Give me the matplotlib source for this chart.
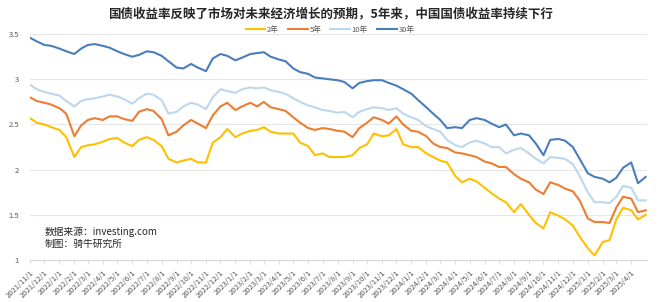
import matplotlib.pyplot as plt
import matplotlib.dates as mdates
import pandas as pd

plt.rcParams['font.family'] = ['Noto Sans CJK SC', 'DejaVu Sans']

# 半月采样的日期（2021/11/1 起）
dates = pd.date_range('2021-11-01', periods=85, freq='SMS')

# 各期限国债收益率(%)
y2 = [2.57, 2.52, 2.50, 2.47, 2.44, 2.36, 2.14, 2.25, 2.27, 2.28,
      2.31, 2.34, 2.35, 2.30, 2.26, 2.33, 2.36, 2.33, 2.26, 2.12,
      2.08, 2.10, 2.12, 2.08, 2.08, 2.30, 2.36, 2.45, 2.36, 2.40,
      2.43, 2.44, 2.47, 2.42, 2.40, 2.40, 2.40, 2.30, 2.26, 2.16,
      2.18, 2.14, 2.14, 2.14, 2.16, 2.24, 2.28, 2.40, 2.37, 2.38,
      2.45, 2.28, 2.25, 2.25, 2.18, 2.14, 2.10, 2.08, 1.93, 1.86,
      1.90, 1.87, 1.80, 1.74, 1.68, 1.64, 1.53, 1.62, 1.50, 1.41,
      1.35, 1.53, 1.49, 1.45, 1.38, 1.26, 1.13, 1.05, 1.20, 1.22,
      1.45, 1.58, 1.55, 1.45, 1.50]
y5 = [2.80, 2.76, 2.74, 2.72, 2.68, 2.62, 2.37, 2.49, 2.55, 2.57,
      2.55, 2.59, 2.59, 2.56, 2.54, 2.64, 2.67, 2.65, 2.56, 2.38,
      2.42, 2.49, 2.55, 2.51, 2.46, 2.60, 2.70, 2.74, 2.66, 2.70,
      2.74, 2.70, 2.75, 2.69, 2.67, 2.65, 2.58, 2.52, 2.46, 2.44,
      2.46, 2.45, 2.43, 2.42, 2.36, 2.46, 2.52, 2.58, 2.55, 2.51,
      2.59, 2.50, 2.43, 2.42, 2.37, 2.29, 2.25, 2.24, 2.19, 2.18,
      2.16, 2.14, 2.09, 2.07, 2.03, 2.03, 1.95, 1.90, 1.86, 1.78,
      1.73, 1.86, 1.83, 1.79, 1.76, 1.66, 1.46, 1.42, 1.42, 1.41,
      1.58, 1.70, 1.68, 1.53, 1.55]
y10 = [2.94, 2.89, 2.86, 2.84, 2.82, 2.76, 2.70, 2.76, 2.78, 2.79,
       2.81, 2.83, 2.81, 2.78, 2.73, 2.79, 2.84, 2.83, 2.77, 2.62,
       2.64, 2.70, 2.74, 2.72, 2.67, 2.80, 2.89, 2.87, 2.85, 2.89,
       2.91, 2.90, 2.91, 2.88, 2.86, 2.84, 2.79, 2.75, 2.71, 2.69,
       2.66, 2.65, 2.63, 2.64, 2.58, 2.64, 2.67, 2.69, 2.68, 2.66,
       2.68, 2.62, 2.58, 2.55, 2.48, 2.45, 2.42, 2.33, 2.27, 2.25,
       2.30, 2.32, 2.29, 2.25, 2.25, 2.18, 2.22, 2.24, 2.18, 2.12,
       2.07, 2.14, 2.13, 2.12, 2.06, 1.93, 1.75, 1.64, 1.64, 1.63,
       1.70, 1.82, 1.80, 1.66, 1.66]
y30 = [3.46, 3.42, 3.38, 3.37, 3.34, 3.31, 3.28, 3.34, 3.38, 3.39,
       3.37, 3.35, 3.31, 3.28, 3.25, 3.27, 3.31, 3.30, 3.26, 3.20,
       3.13, 3.12, 3.17, 3.13, 3.09, 3.23, 3.28, 3.26, 3.21, 3.24,
       3.28, 3.29, 3.30, 3.25, 3.22, 3.20, 3.12, 3.08, 3.06, 3.02,
       3.01, 3.00, 2.99, 2.97, 2.90, 2.96, 2.98, 2.99, 2.99, 2.96,
       2.93, 2.89, 2.84, 2.77, 2.69, 2.62, 2.55, 2.46, 2.47, 2.46,
       2.55, 2.57, 2.55, 2.51, 2.47, 2.50, 2.38, 2.40, 2.38, 2.29,
       2.16, 2.33, 2.34, 2.32, 2.25, 2.12, 1.96, 1.92, 1.90, 1.86,
       1.91, 2.02, 2.08, 1.85, 1.92]

names = ['2年', '5年', '10年', '30年']
colors = ['#FFC000', '#ED7D31', '#BDD7EE', '#4A7EBB']

fig = plt.figure(figsize=(6.6, 3.02), dpi=100)
ax = fig.add_axes([0.0455, 0.139, 0.935, 0.748])

for vals, name, c in zip([y2, y5, y10, y30], names, colors):
    ax.plot(dates, vals, color=c, lw=1.5, label=name)

ax.set_ylim(1, 3.5)
ax.set_yticks([1, 1.5, 2, 2.5, 3, 3.5])
ax.set_yticklabels(['1', '1.5', '2', '2.5', '3', '3.5'])
ax.set_xlim(pd.Timestamp('2021-11-01'), pd.Timestamp('2025-05-04'))

ticks = pd.date_range('2021-11-01', '2025-04-01', freq='MS')
ax.set_xticks(ticks)
ax.set_xticklabels([f'{d.year}/{d.month}/1' for d in ticks],
                   rotation=45, ha='right', rotation_mode='anchor')
ax.tick_params(axis='x', labelsize=5.5, colors='#595959', length=3, width=0.6)
ax.tick_params(axis='y', labelsize=5.5, colors='#595959', length=0, pad=8)
ax.tick_params(axis='x', color='#d9d9d9')

ax.grid(axis='y', color='#e6e6e6', lw=0.8)
ax.set_axisbelow(True)
for s in ['top', 'right', 'left']:
    ax.spines[s].set_visible(False)
ax.spines['bottom'].set_color('#d9d9d9')

fig.text(0.5, 0.955, '国债收益率反映了市场对未来经济增长的预期，5年来，中国国债收益率持续下行',
         ha='center', va='center', fontsize=9.0, fontweight='bold', color='#262626')
fig.legend(loc='center', bbox_to_anchor=(0.5, 0.902), ncol=4, frameon=False,
           fontsize=5.5, handlelength=2.6, handletextpad=0.2, columnspacing=1.2,
           labelcolor='#595959')

fig.text(45 / 660, 1 - 232 / 302, '数据来源：investing.com', fontsize=7, va='center', color='#262626')
fig.text(45 / 660, 1 - 244 / 302, '制图：骑牛研究所', fontsize=7, va='center', color='#262626')

fig.savefig('out.png', dpi=100)
